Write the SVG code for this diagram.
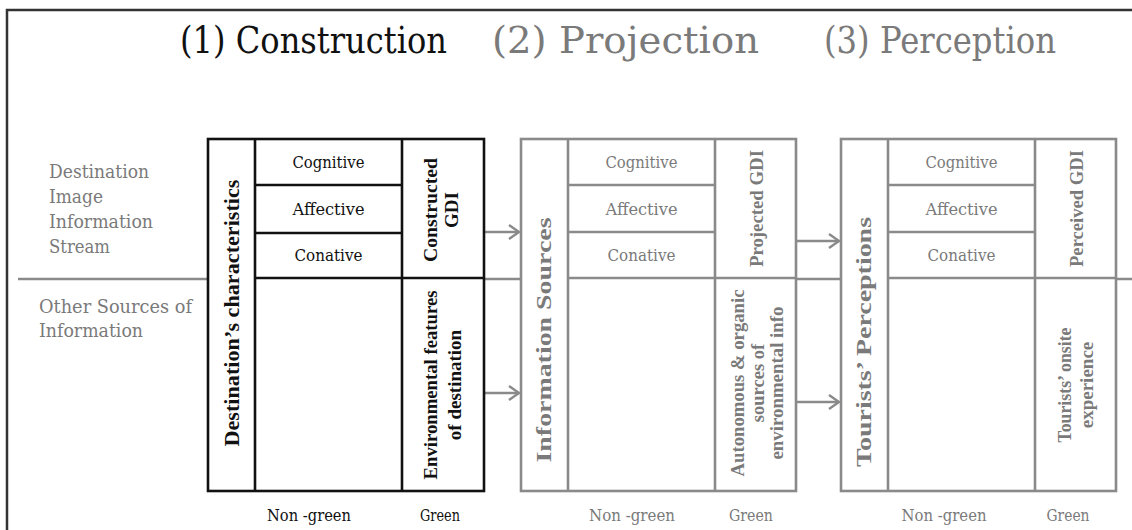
<svg xmlns="http://www.w3.org/2000/svg" width="1132" height="530" viewBox="0 0 1132 530" font-family="'Liberation Serif', 'DejaVu Serif', serif">
<defs>
<style>
.r{font-family:'DejaVu Serif','Liberation Serif',serif;}
.t{font-size:37px;}
.k{fill:#111;}
.g{fill:#7a7a7a;}
.b{font-weight:bold;font-family:'Liberation Serif','DejaVu Serif',serif;}
.lbl{font-size:18px;fill:#7a7a7a;}
.cell{font-size:16px;text-anchor:middle;}
.foot{font-size:16.5px;text-anchor:middle;}
.rot{text-anchor:middle;}
.bk{fill:#fff;stroke:#111;stroke-width:2.6;}
.bkl{stroke:#111;stroke-width:2.6;fill:none;}
.bg{fill:#fff;stroke:#8a8a8a;stroke-width:2.6;}
.bgl{stroke:#8a8a8a;stroke-width:2.6;fill:none;}
.conn{stroke:#8a8a8a;stroke-width:2.4;fill:none;}
</style>
<marker id="arr" markerUnits="userSpaceOnUse" markerWidth="16" markerHeight="18" refX="12" refY="8" orient="auto">
<path d="M2,1 L12,8 L2,15" fill="none" stroke="#8a8a8a" stroke-width="2.4"/>
</marker>
</defs>
<rect width="1132" height="530" fill="#fff"/>
<path d="M7,530 L7,10 L1132,10" fill="none" stroke="#333" stroke-width="2.5"/>

<g id="titles">
<text class="r t k" x="180" y="53" textLength="267" lengthAdjust="spacingAndGlyphs">(1) Construction</text>
<text class="r t g" x="492" y="53" textLength="267" lengthAdjust="spacingAndGlyphs">(2) Projection</text>
<text class="r t g" x="824" y="53" textLength="232" lengthAdjust="spacingAndGlyphs">(3) Perception</text>
</g>

<g id="row-labels">
<text class="r lbl" x="49" y="178" textLength="100" lengthAdjust="spacingAndGlyphs">Destination</text>
<text class="r lbl" x="49" y="203" textLength="54" lengthAdjust="spacingAndGlyphs">Image</text>
<text class="r lbl" x="49" y="228" textLength="104" lengthAdjust="spacingAndGlyphs">Information</text>
<text class="r lbl" x="49" y="253" textLength="61" lengthAdjust="spacingAndGlyphs">Stream</text>
<text class="r lbl" x="39" y="313" textLength="153" lengthAdjust="spacingAndGlyphs">Other Sources of</text>
<text class="r lbl" x="39" y="337" textLength="104" lengthAdjust="spacingAndGlyphs">Information</text>
</g>

<g id="connectors">
<line class="conn" x1="18" y1="279" x2="1132" y2="279"/>
<line class="conn" x1="484" y1="232" x2="519" y2="232" marker-end="url(#arr)"/>
<line class="conn" x1="484" y1="393" x2="519" y2="393" marker-end="url(#arr)"/>
<line class="conn" x1="796" y1="241" x2="839" y2="241" marker-end="url(#arr)"/>
<line class="conn" x1="796" y1="402" x2="839" y2="402" marker-end="url(#arr)"/>
</g>

<g id="construction">
<rect class="bk" x="208" y="139" width="276" height="352"/>
<path class="bkl" d="M255,139 V491 M402,139 V491 M255,278 H484 M255,185 H402 M255,233 H402"/>
<text class="rot b k" font-size="21" transform="translate(231.5,313) rotate(-90)" y="7" textLength="267" lengthAdjust="spacingAndGlyphs">Destination’s characteristics</text>
<text class="r cell k" x="328.5" y="168" textLength="72" lengthAdjust="spacingAndGlyphs">Cognitive</text>
<text class="r cell k" x="328.5" y="215" textLength="72" lengthAdjust="spacingAndGlyphs">Affective</text>
<text class="r cell k" x="328.5" y="261" textLength="68" lengthAdjust="spacingAndGlyphs">Conative</text>
<g transform="translate(443,210) rotate(-90)">
<text class="rot b k" font-size="19" y="-6" textLength="104" lengthAdjust="spacingAndGlyphs">Constructed</text>
<text class="rot b k" font-size="19" y="15">GDI</text>
</g>
<g transform="translate(443,385) rotate(-90)">
<text class="rot b k" font-size="19" y="-6" textLength="189" lengthAdjust="spacingAndGlyphs">Environmental features</text>
<text class="rot b k" font-size="19" y="18">of destination</text>
</g>
<text class="r foot k" x="309" y="521" textLength="84" lengthAdjust="spacingAndGlyphs">Non -green</text>
<text class="r foot k" x="440" y="521" textLength="40" lengthAdjust="spacingAndGlyphs">Green</text>
</g>

<g id="projection">
<rect class="bg" x="521" y="139" width="275" height="352"/>
<path class="bgl" d="M568,139 V491 M715,139 V491 M568,278 H796 M568,185 H715 M568,232 H715"/>
<text class="rot b g" font-size="20" transform="translate(544.5,340) rotate(-90)" y="6" textLength="245" lengthAdjust="spacingAndGlyphs">Information Sources</text>
<text class="r cell g" x="641.5" y="168" textLength="72" lengthAdjust="spacingAndGlyphs">Cognitive</text>
<text class="r cell g" x="641.5" y="215" textLength="72" lengthAdjust="spacingAndGlyphs">Affective</text>
<text class="r cell g" x="641.5" y="261" textLength="68" lengthAdjust="spacingAndGlyphs">Conative</text>
<text class="rot b g" font-size="19" transform="translate(755.5,208.5) rotate(-90)" y="7.5" textLength="117" lengthAdjust="spacingAndGlyphs">Projected GDI</text>
<g transform="translate(755.5,383) rotate(-90)">
<text class="rot b g" font-size="18.5" y="-11.5" textLength="187" lengthAdjust="spacingAndGlyphs">Autonomous &amp; organic</text>
<text class="rot b g" font-size="18.5" y="8">sources of</text>
<text class="rot b g" font-size="18.5" y="27.5" textLength="153" lengthAdjust="spacingAndGlyphs">environmental info</text>
</g>
<text class="r foot g" x="632" y="521" textLength="86" lengthAdjust="spacingAndGlyphs">Non -green</text>
<text class="r foot g" x="751" y="521" textLength="44" lengthAdjust="spacingAndGlyphs">Green</text>
</g>

<g id="perception">
<rect class="bg" x="841" y="139" width="275" height="352"/>
<path class="bgl" d="M888,139 V491 M1035,139 V491 M888,278 H1116 M888,185 H1035 M888,232 H1035"/>
<text class="rot b g" font-size="20" transform="translate(864.5,342) rotate(-90)" y="6.5" textLength="250" lengthAdjust="spacingAndGlyphs">Tourists’ Perceptions</text>
<text class="r cell g" x="961.5" y="168" textLength="72" lengthAdjust="spacingAndGlyphs">Cognitive</text>
<text class="r cell g" x="961.5" y="215" textLength="72" lengthAdjust="spacingAndGlyphs">Affective</text>
<text class="r cell g" x="961.5" y="261" textLength="68" lengthAdjust="spacingAndGlyphs">Conative</text>
<text class="rot b g" font-size="19" transform="translate(1075.5,208.5) rotate(-90)" y="7.5" textLength="117" lengthAdjust="spacingAndGlyphs">Perceived GDI</text>
<g transform="translate(1075.5,385) rotate(-90)">
<text class="rot b g" font-size="19" y="-4.5" textLength="115" lengthAdjust="spacingAndGlyphs">Tourists’ onsite</text>
<text class="rot b g" font-size="19" y="17.5">experience</text>
</g>
<text class="r foot g" x="944" y="521" textLength="85" lengthAdjust="spacingAndGlyphs">Non -green</text>
<text class="r foot g" x="1068" y="521" textLength="43" lengthAdjust="spacingAndGlyphs">Green</text>
</g>
</svg>
